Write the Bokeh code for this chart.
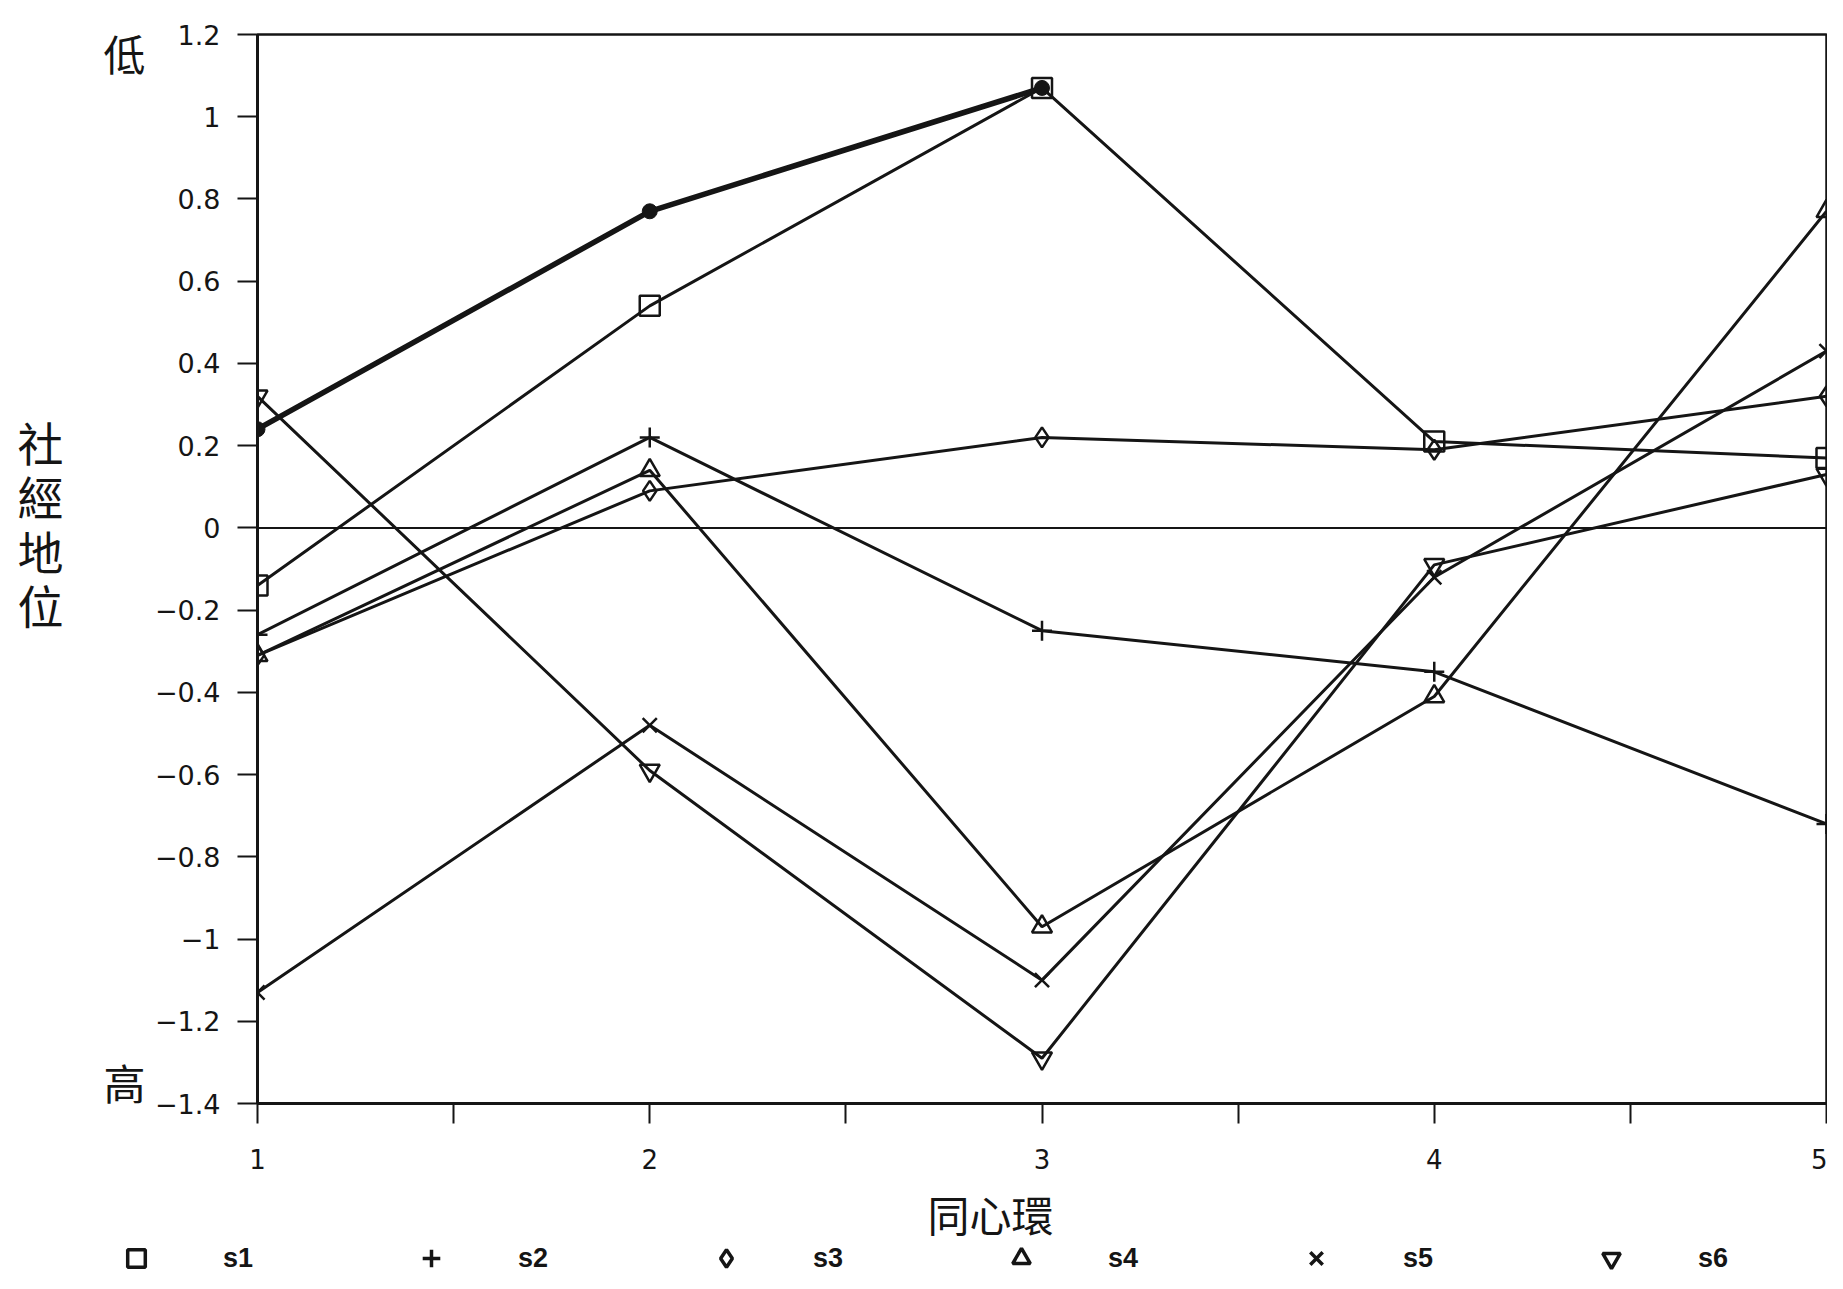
from bokeh.plotting import figure
from bokeh.layouts import column
from bokeh.models import Range1d, FixedTicker, Span, Legend, LegendItem, LinearAxis, Label
from bokeh.embed import file_html
from bokeh.resources import INLINE

# ---------------- data ----------------
rings = [1, 2, 3, 4, 5]
s1 = [-0.14, 0.54, 1.07, 0.21, 0.17]
s2 = [-0.26, 0.22, -0.25, -0.35, -0.72]
s3 = [-0.31, 0.09, 0.22, 0.19, 0.32]
s4 = [-0.31, 0.14, -0.97, -0.41, 0.77]
s5 = [-1.13, -0.48, -1.10, -0.12, 0.43]
s6 = [0.32, -0.59, -1.29, -0.09, 0.13]
extra_rings = [1, 2, 3]
extra_series = [0.24, 0.77, 1.07]

series_names = ["s1", "s2", "s3", "s4", "s5", "s6"]
series_values = [s1, s2, s3, s4, s5, s6]
series_markers = ["square", "cross", "diamond", "triangle", "x", "inverted_triangle"]

x_ticks = [1, 2, 3, 4, 5]
x_tick_labels = ["1", "2", "3", "4", "5"]
x_minor_ticks = [1.5, 2.5, 3.5, 4.5]
y_ticks = [1.2, 1.0, 0.8, 0.6, 0.4, 0.2, 0.0, -0.2, -0.4, -0.6, -0.8, -1.0, -1.2, -1.4]
y_tick_labels = ["1.2", "1", "0.8", "0.6", "0.4", "0.2", "0", "\u22120.2", "\u22120.4",
                 "\u22120.6", "\u22120.8", "\u22121", "\u22121.2", "\u22121.4"]
x_title = "同心環"
y_title_chars = ["社", "經", "地", "位"]
y_end_labels = ["低", "高"]

X0, X1 = 1, 5
Y0, Y1 = -1.4, 1.2

# ---------------- layout ----------------
W, H_TOTAL = 1827, 1273
H_MAIN = 1182
H_LEG = H_TOTAL - H_MAIN
FR_L, FR_R, FR_T, FR_B = 257, 1826, 34, 1103
INK = "#151515"
CJK = "Noto Sans CJK TC"


def cx(px):
    return X0 + (px - FR_L) * (X1 - X0) / (FR_R - FR_L)


def cy(py):
    return Y1 - (py - FR_T) * (Y1 - Y0) / (FR_B - FR_T)


p = figure(width=W, height=H_MAIN, output_backend="svg", toolbar_location=None,
           x_range=Range1d(X0, X1), y_range=Range1d(Y0, Y1),
           min_border_left=FR_L, min_border_right=W - FR_R,
           min_border_top=FR_T, min_border_bottom=H_MAIN - FR_B)
p.frame_align = False
p.background_fill_color = "white"
p.border_fill_color = "white"
p.grid.visible = False
p.outline_line_color = INK
p.outline_line_width = 2.5

# x axis
xa = p.xaxis[0]
xa.ticker = FixedTicker(ticks=x_ticks, minor_ticks=x_minor_ticks)
xa.major_label_overrides = {t: l for t, l in zip(x_ticks, x_tick_labels)}
xa.axis_line_width = 3
xa.axis_line_color = INK
xa.major_tick_line_color = INK
xa.minor_tick_line_color = INK
xa.major_tick_line_width = 2
xa.minor_tick_line_width = 2
xa.major_tick_in = 0
xa.major_tick_out = 20
xa.minor_tick_in = 0
xa.minor_tick_out = 20
xa.major_label_standoff = 25
xa.major_label_text_font = "DejaVu Sans"
xa.major_label_text_font_size = "26px"
xa.major_label_text_color = INK

# y axis
ya = p.yaxis[0]
ya.ticker = FixedTicker(ticks=y_ticks, minor_ticks=[])
ya.major_label_overrides = {t: l for t, l in zip(y_ticks, y_tick_labels)}
ya.axis_line_width = 3
ya.axis_line_color = INK
ya.major_tick_line_color = INK
ya.major_tick_line_width = 2
ya.major_tick_in = 0
ya.major_tick_out = 20
ya.major_label_standoff = 17
ya.major_label_text_font = "DejaVu Sans"
ya.major_label_text_font_size = "27px"
ya.major_label_text_color = INK


def text_axis(positions, labels, standoff, size, side):
    ax = LinearAxis(ticker=FixedTicker(ticks=positions, minor_ticks=[]),
                    major_label_overrides={t: l for t, l in zip(positions, labels)},
                    axis_line_color=None, major_tick_line_color=None,
                    minor_tick_line_color=None, major_tick_out=0, major_tick_in=0,
                    major_label_standoff=standoff, major_label_text_font=CJK,
                    major_label_text_font_size=size, major_label_text_color=INK)
    p.add_layout(ax, side)
    return ax


# 低 / 高 markers beside the value axis
text_axis([cy(52), cy(1081)], y_end_labels, 6, "42px", "left")
# stacked vertical y title
text_axis([cy(440 + i * 54.5) for i in range(len(y_title_chars))], y_title_chars,
          37, "46px", "left")

# zero reference line
p.add_layout(Span(location=0, dimension="width", line_color=INK, line_width=2))

# unlabeled bold series
p.line(extra_rings, extra_series, line_color=INK, line_width=5.5)
p.scatter(extra_rings, extra_series, marker="circle", size=15,
          fill_color=INK, line_color=INK)

for name, vals, mk in zip(series_names, series_values, series_markers):
    p.line(rings, vals, line_color=INK, line_width=3)
    p.scatter(rings, vals, marker=mk, size=20, fill_color=None,
              line_color=INK, line_width=2.5)

# ---------------- x title + legend strip ----------------
# the strip's ranges keep its legend proxy points out of view
pl = figure(width=W, height=H_LEG, output_backend="svg", toolbar_location=None,
            x_range=Range1d(-10, -9), y_range=Range1d(-10, -9),
            x_axis_location=None, y_axis_location=None,
            min_border=0, min_border_left=0, min_border_right=0,
            min_border_top=0, min_border_bottom=0)
pl.frame_align = False
pl.grid.visible = False
pl.outline_line_color = None
pl.background_fill_color = "white"
pl.border_fill_color = "white"

TITLE_Y = 1213 - H_MAIN          # canvas y of the x title, from the strip's top
pl.add_layout(Label(x=990, y=H_LEG - TITLE_Y, x_units="screen", y_units="screen",
                    text=x_title, text_font=CJK, text_font_size="42px",
                    text_align="center", text_baseline="middle", text_color=INK))

items = []
for name, vals, mk in zip(series_names, series_values, series_markers):
    r = pl.scatter(rings, vals, marker=mk, size=20, fill_color=None,
                   line_color=INK, line_width=3.5)
    items.append(LegendItem(label=name, renderers=[r]))

GLYPH_H = 44
LEG_CENTER = 1258                # canvas y of the legend row
legend = Legend(items=items, orientation="horizontal",
                location=(111, H_TOTAL - LEG_CENTER - GLYPH_H // 2),
                glyph_width=50, glyph_height=GLYPH_H, label_standoff=62,
                label_width=170, spacing=13, padding=0, margin=0,
                border_line_color=None, background_fill_alpha=0,
                label_text_font="Liberation Sans", label_text_font_style="bold",
                label_text_font_size="27px", label_text_color=INK)
pl.add_layout(legend)

layout = column(p, pl, spacing=0)
open("out.html", "w").write(file_html(layout, INLINE))
